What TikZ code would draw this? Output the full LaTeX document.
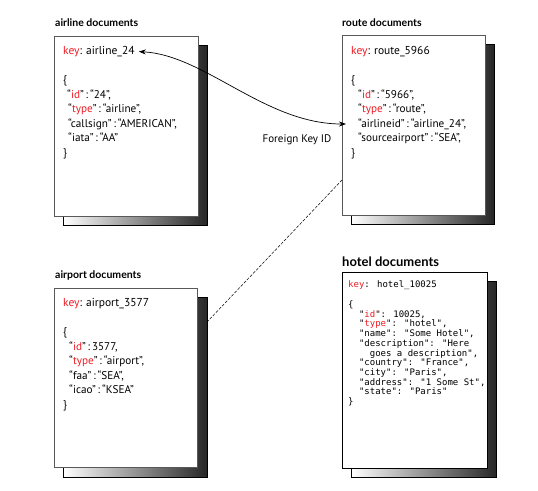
\documentclass[tikz,border=0pt]{standalone}
\usepackage{fontspec}
\setmainfont{PT Sans}
\newfontfamily\titlefont{Lato}
\newfontfamily\codefont{DejaVu Sans Mono}
\usetikzlibrary{arrows.meta}
\definecolor{keyred}{HTML}{ED1C24}
\newcommand{\kr}[1]{\textcolor{keyred}{#1}}
\begin{document}
\begin{tikzpicture}[x=1pt,y=-1pt,
  docbox/.style={draw=black!65, line width=0.8pt, fill=white, anchor=north west, inner sep=0pt},
  shadowbox/.style={draw=black, line width=0.6pt, left color=white, right color=black!85, anchor=north west, inner sep=0pt},
  doctitle/.style={font=\titlefont\bfseries\fontsize{10.5}{12}\selectfont, anchor=base west, inner sep=0pt},
  keytext/.style={font=\fontsize{11.5}{13}\selectfont, anchor=base west, inner sep=0pt},
  jsontext/.style={font=\fontsize{11.2}{14.6}\selectfont, anchor=north west, inner sep=0pt, align=left},
  codetext/.style={font=\codefont\fontsize{9}{9.7}\selectfont, anchor=north west, inner sep=0pt, align=left},
  fk/.style={line width=0.7pt, {Stealth[length=7pt,width=5pt]}-{Stealth[length=7pt,width=5pt]}},
  dashlink/.style={line width=0.5pt, dash pattern=on 3pt off 1.5pt}
]
\useasboundingbox (0,0) rectangle (538,490);

% airline
\node[shadowbox, minimum width=144pt, minimum height=180pt] (airlineshadow) at (63,45) {};
\node[docbox, minimum width=144pt, minimum height=180pt] (airlinebox) at (54,36) {};
\node[doctitle] (airlinetitle) at (55,26) {airline documents};
\node[keytext] (airlinekey) at (63,54.5) {\kr{key}: airline\_24};
\node[jsontext] (airlinejson) at (63,75.5) {\{\\
\hspace*{4pt}“\kr{id}”\,:\,“24”,\\
\hspace*{5pt}“\kr{type}”\,:\,“airline”,\\
\hspace*{5pt}“callsign”\,:\,“AMERICAN”,\\
\hspace*{5pt}“iata”\,:\,“AA”\\
\}};

% route
\node[shadowbox, minimum width=143pt, minimum height=180pt] (routeshadow) at (351,44) {};
\node[docbox, minimum width=143pt, minimum height=180pt] (routebox) at (342,35) {};
\node[doctitle] (routetitle) at (342,26) {route documents};
\node[keytext] (routekey) at (351,54.5) {\kr{key}: route\_5966};
\node[jsontext] (routejson) at (351,75.5) {\{\\
\hspace*{7pt}“\kr{id}”\,:\,“5966”,\\
\hspace*{7pt}“\kr{type}”\,:\,“route”,\\
\hspace*{7pt}“airlineid”\,:\,“airline\_24”,\\
\hspace*{7pt}“sourceairport”\,:\,“SEA”,\\
\}};

% airport
\node[shadowbox, minimum width=144pt, minimum height=180pt] (airportshadow) at (63,297) {};
\node[docbox, minimum width=143pt, minimum height=179pt] (airportbox) at (54,288) {};
\node[doctitle] (airporttitle) at (55,278) {airport documents};
\node[keytext] (airportkey) at (63,306.5) {\kr{key}: airport\_3577};
\node[jsontext] (airportjson) at (63,327.5) {\{\\
\hspace*{6pt}“\kr{id}”\,:\,3577,\\
\hspace*{6pt}“\kr{type}”\,:\,“airport”,\\
\hspace*{6pt}“faa”\,:\,“SEA”,\\
\hspace*{6pt}“icao”\,:\,“KSEA”\\
\}};

% hotel
\node[shadowbox, minimum width=145pt, minimum height=196pt] (hotelshadow) at (351,281) {};
\node[docbox, draw=black, minimum width=145pt, minimum height=196pt] (hotelbox) at (342,272) {};
\node[doctitle, font=\titlefont\bfseries\fontsize{13}{15}\selectfont] (hoteltitle) at (342,266) {hotel documents};
\node[codetext, anchor=base west] (hotelkey) at (348,287) {\kr{key}: hotel\_10025};
\node[codetext] (hoteljson) at (348,300.5) {\{\\
\phantom{xx}"\kr{id}": 10025,\\
\phantom{xx}"\kr{type}": "hotel",\\
\phantom{xx}"name": "Some Hotel",\\
\phantom{xx}"description": "Here\\
\phantom{xxxx}goes a description",\\
\phantom{xx}"country": "France",\\
\phantom{xx}"city": "Paris",\\
\phantom{xx}"address": "1 Some St",\\
\phantom{xx}"state": "Paris"\\
\}};

% connectors
\coordinate (fkstart) at ([xshift=4pt]airlinekey.east);
\coordinate (fkend) at (346,124);
\draw[fk] (fkstart) .. controls (205,55) and (265,124) .. (fkend);
\node[font=\fontsize{11}{12}\selectfont, inner sep=0pt] (fklabel) at (297,140) {Foreign Key ID};

\coordinate (dashtop) at (342,180);
\coordinate (dashbot) at (207,322);
\draw[dashlink] (dashtop) -- (dashbot);
\end{tikzpicture}
\end{document}
